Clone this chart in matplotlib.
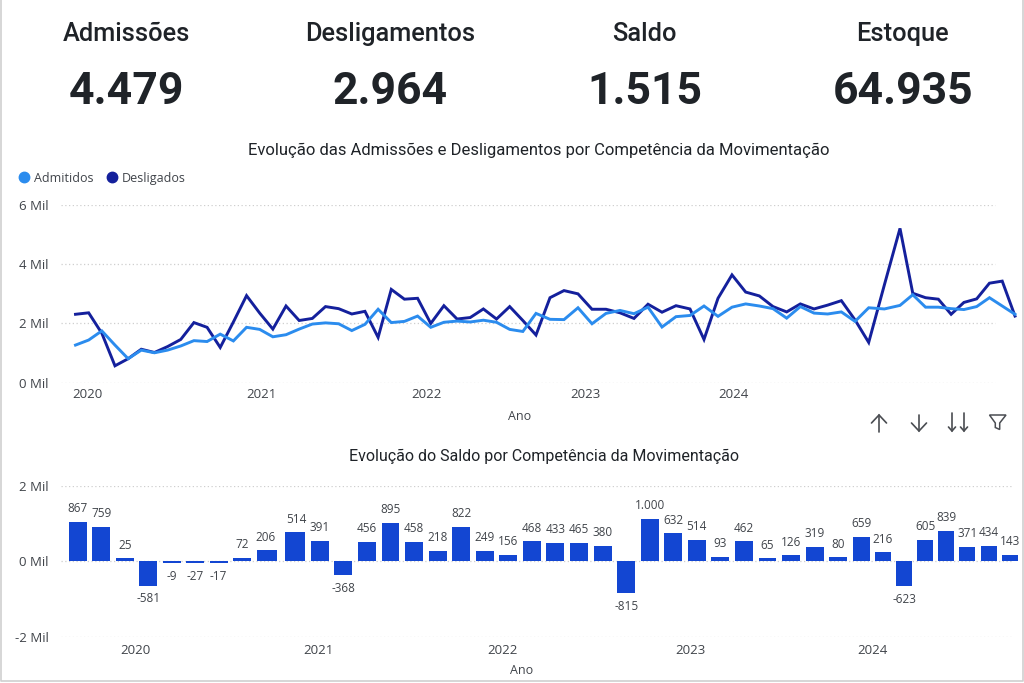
import numpy as np
import matplotlib
matplotlib.use("Agg")
import matplotlib.pyplot as plt
from matplotlib.lines import Line2D
from matplotlib.patches import Polygon

W, H = 1024, 683
kpi_names = ["Admissões", "Desligamentos", "Saldo", "Estoque"]
kpi_values = ["4.479", "2.964", "1.515", "64.935"]

admitidos = [1.27,1.44,1.75,1.27,0.81,1.10,1.01,1.10,1.24,1.42,1.39,1.64,1.41,1.87,1.80,1.55,1.62,1.81,
             1.98,2.02,1.99,1.76,1.97,2.48,2.03,2.07,2.25,1.87,2.04,2.08,2.05,2.11,2.04,1.80,1.73,2.34,
             2.14,2.13,2.53,1.99,2.34,2.44,2.33,2.55,1.88,2.23,2.27,2.59,2.24,2.55,2.66,2.59,2.50,2.18,
             2.57,2.35,2.32,2.39,2.07,2.53,2.49,2.61,2.97,2.55,2.55,2.50,2.47,2.57,2.87,2.59,2.31]
desligados = [2.31,2.36,1.67,0.57,0.81,1.13,1.02,1.22,1.46,2.03,1.87,1.19,2.05,2.94,2.35,1.81,2.59,2.10,
              2.17,2.57,2.50,2.32,2.41,1.53,3.15,2.82,2.85,2.00,2.60,2.15,2.20,2.49,2.15,2.57,2.10,1.61,
              2.87,3.11,3.00,2.48,2.48,2.36,2.17,2.65,2.38,2.60,2.49,1.46,2.85,3.64,3.06,2.93,2.57,2.39,
              2.66,2.49,2.62,2.77,2.12,1.36,3.30,5.21,3.02,2.87,2.82,2.31,2.71,2.83,3.36,3.43,2.25]

saldo_labels = ["867","759","25","-581","-9","-27","-17","72","206","514","391","-368","456","895","458",
                "218","822","249","156","468","433","465","380","-815","1.000","632","514","93","462","65",
                "126","319","80","659","216","-623","605","839","371","434","143"]
saldo_bars = [1040,907,79,-643,-44,-44,-53,97,291,767,537,-370,520,1013,520,282,916,282,176,529,485,485,405,
              -837,1128,740,573,115,529,79,159,388,106,652,238,-652,573,811,379,414,167]

anos = ["2020", "2021", "2022", "2023", "2024"]
C_ADM, C_DES, C_BAR = "#2B8CEE", "#14209C", "#1346D2"
C_TXT, C_AXIS, C_GRID = "#1f2328", "#40444a", "#cfcfcf"
TITLE = ["Roboto", "DejaVu Sans"]
BODY = ["Open Sans", "DejaVu Sans"]

fig = plt.figure(figsize=(W/100, H/100), dpi=100, facecolor="white")


def axes_px(x0, x1, ytop, ybot):
    return fig.add_axes([x0/W, 1-ybot/H, (x1-x0)/W, (ybot-ytop)/H])


def warp(ax, idx_knots, px_knots):
    ax.set_xscale("function", functions=(lambda v: np.interp(v, idx_knots, px_knots),
                                         lambda v: np.interp(v, px_knots, idx_knots)))
    ax.set_xlim(idx_knots[0], idx_knots[-1])


def style(ax, yticks, ylabels, xpos, grid_end):
    for s in ax.spines.values():
        s.set_visible(False)
    ax.patch.set_alpha(0)
    ax.set_yticks(yticks, ylabels, family=BODY, fontsize=9.5, color=C_AXIS)
    ax.set_xticks(xpos, anos, family=BODY, fontsize=9.5, color=C_AXIS)
    ax.minorticks_off()
    ax.tick_params(length=0)
    ax.tick_params(axis="y", pad=9)
    for y in yticks:
        ax.axhline(y, 0, grid_end, color=C_GRID, lw=0.9, ls=(0, (1, 2)), zorder=0)


# KPI cards
for cx, name in zip([126, 390, 644, 902], kpi_names):
    fig.text(cx/W, 1-34/H, name, ha="center", va="center", family=TITLE, fontsize=18.3,
             fontweight="medium", color=C_TXT)
for cx, val in zip([126, 390, 645, 903], kpi_values):
    fig.text(cx/W, 1-92/H, val, ha="center", va="center", family=TITLE, fontsize=32,
             fontweight="bold", color=C_TXT)

# Line chart
ax1 = axes_px(61, 1020, 205, 382.7)
idx1 = [-1.1, 0, 35, 49, 59, 61, 70, 70.4]
px1 = [61, 75.5, 536, 732, 868.7, 900, 1015, 1020]
warp(ax1, idx1, px1)
ax1.set_ylim(0, 6)
t1 = np.arange(len(admitidos))
ax1.plot(t1, desligados, color=C_DES, lw=2.1, solid_joinstyle="miter", clip_on=False, zorder=3, label="Desligados")
ax1.plot(t1, admitidos, color=C_ADM, lw=2.1, solid_joinstyle="miter", clip_on=False, zorder=4, label="Admitidos")
style(ax1, [0, 2, 4, 6], ["0 Mil", "2 Mil", "4 Mil", "6 Mil"],
      np.interp([87, 261.7, 426.7, 585.3, 733.7], px1, idx1), (995-61)/959)
ax1.tick_params(axis="x", pad=4)
fig.text(520/W, 1-416/H, "Ano", ha="center", va="center", family=BODY, fontsize=9, color=C_AXIS)
fig.text(539/W, 1-150/H, "Evolução das Admissões e Desligamentos por Competência da Movimentação",
         ha="center", va="center", family=TITLE, fontsize=12, color=C_TXT)
handles = [Line2D([], [], ls="", marker="o", ms=7.5, color=C_ADM, label="Admitidos"),
           Line2D([], [], ls="", marker="o", ms=7.5, color=C_DES, label="Desligados")]
fig.legend(handles=handles, ncol=2, loc="center left", bbox_to_anchor=(18/W, 1-178/H), frameon=False,
           handlelength=1.0, handletextpad=0.28, columnspacing=0.96, borderpad=0, borderaxespad=0,
           prop={"family": BODY, "size": 9}, labelcolor=C_AXIS)

# Bar chart
ax2 = axes_px(61, 1020, 485.7, 637)
warp(ax2, [-0.71, 0, 8, 9, 33, 40, 40.49], [61, 77.7, 265.7, 296.3, 861.7, 1009.7, 1020])
ax2.set_ylim(-2000, 2000)
t2 = np.arange(len(saldo_bars))
rects = ax2.bar(t2, saldo_bars, width=0.76, color=C_BAR, zorder=3)
for r, v, lab in zip(rects, saldo_bars, saldo_labels):
    ax2.annotate(lab, (r.get_x()+r.get_width()/2, v), xytext=(0, 9.4 if v >= 0 else -9.4),
                 textcoords="offset points", ha="center", va="center", family=BODY, fontsize=8.5,
                 color=C_AXIS, zorder=5)
px2idx = np.array([135, 318, 503, 690, 872])
style(ax2, [-2000, 0, 2000], ["-2 Mil", "0 Mil", "2 Mil"],
      np.interp(px2idx, [61, 77.7, 265.7, 296.3, 861.7, 1009.7, 1020], [-0.71, 0, 8, 9, 33, 40, 40.49]),
      (1012-61)/959)
ax2.tick_params(axis="x", pad=5)
fig.text(522/W, 1-670/H, "Ano", ha="center", va="center", family=BODY, fontsize=9, color=C_AXIS)
fig.text(544/W, 1-456/H, "Evolução do Saldo por Competência da Movimentação",
         ha="center", va="center", family=TITLE, fontsize=11.5, color=C_TXT)

# Overlay: icons and card border, in pixel coordinates
ov = fig.add_axes([0, 0, 1, 1], zorder=10)
ov.set_xlim(0, W); ov.set_ylim(H, 0); ov.axis("off")
ic = dict(color="#4a4d52", lw=1.2, solid_capstyle="round", solid_joinstyle="miter")
ov.plot([879, 879], [415, 432], **ic); ov.plot([871.5, 879, 886.5], [423, 415, 423], **ic)
ov.plot([919, 919], [415, 431], **ic); ov.plot([911.5, 919, 926.5], [423, 431, 423], **ic)
for x in (952, 964):
    ov.plot([x, x], [413, 431], **ic); ov.plot([x-3.5, x, x+3.5], [427, 431, 427], **ic)
ov.add_patch(Polygon([(989.5, 415), (1006, 415), (999.7, 423), (999.7, 429.5), (995.3, 427.5), (995.3, 423)],
                     closed=True, fill=False, ec="#4a4d52", lw=1.1))
ov.plot([1, 1, 1022.5, 1022.5], [0, 681, 681, 0], color="#cfcfcf", lw=1.2)

fig.savefig("out.png", dpi=100)
